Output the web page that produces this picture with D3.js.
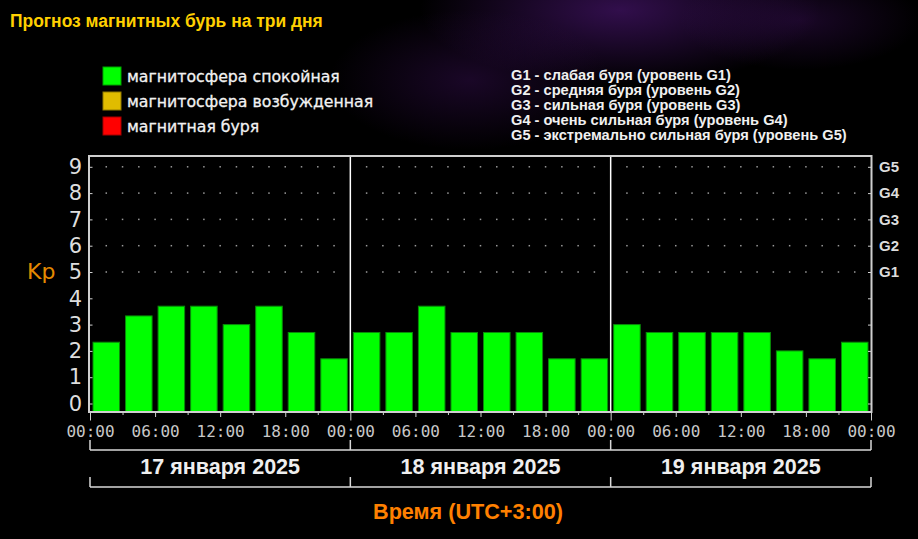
<!DOCTYPE html>
<html><head><meta charset="utf-8">
<script src="https://cdn.jsdelivr.net/npm/d3@7"></script>
<style>html,body{margin:0;padding:0;background:#000;overflow:hidden}
.cond{font-family:"Liberation Sans",Arial,sans-serif;font-weight:bold}</style>
</head><body>
<script>
// ---- data ----
const days = ["17 января 2025", "18 января 2025", "19 января 2025"];
const kpDay1 = [2.33, 3.33, 3.7, 3.7, 3.0, 3.7, 2.7, 1.7];
const kpDay2 = [2.7, 2.7, 3.7, 2.7, 2.7, 2.7, 1.7, 1.7];
const kpDay3 = [3.0, 2.7, 2.7, 2.7, 2.7, 2.0, 1.7, 2.33];
const yTicks = [0, 1, 2, 3, 4, 5, 6, 7, 8, 9];
const gTicks = ["G1", "G2", "G3", "G4", "G5"];
const timeLabels = ["00:00", "06:00", "12:00", "18:00"];
const legendLabels = ["магнитосфера спокойная", "магнитосфера возбужденная", "магнитная буря"];
const legendColors = ["#00ff00", "#e0bc00", "#ff0000"];
const gLegend = [
  "G1 - слабая буря (уровень G1)",
  "G2 - средняя буря (уровень G2)",
  "G3 - сильная буря (уровень G3)",
  "G4 - очень сильная буря (уровень G4)",
  "G5 - экстремально сильная буря (уровень G5)"
];
const titleText = "Прогноз магнитных бурь на три дня";
const axisTitle = "Время (UTC+3:00)";

// ---- layout ----
const W = 918, H = 539;
const svg = d3.select("body").append("svg").attr("width", W).attr("height", H);
const defs = svg.append("defs");
function glow(id, color, op) {
  const g = defs.append("radialGradient").attr("id", id);
  g.append("stop").attr("offset", "0%").attr("stop-color", color).attr("stop-opacity", op);
  g.append("stop").attr("offset", "100%").attr("stop-color", color).attr("stop-opacity", 0);
}
glow("g1", "#5a1a8a", 0.55);
glow("g2", "#4a1470", 0.35);
svg.append("rect").attr("width", W).attr("height", H).attr("fill", "#000");
svg.append("ellipse").attr("cx", 620).attr("cy", 10).attr("rx", 200).attr("ry", 75).attr("fill", "url(#g1)");
svg.append("ellipse").attr("cx", 470).attr("cy", 80).attr("rx", 140).attr("ry", 70).attr("fill", "url(#g2)");
svg.append("ellipse").attr("cx", 800).attr("cy", 20).attr("rx", 120).attr("ry", 50).attr("fill", "url(#g2)");

const L = 89, R = 871.5, T = 156, B = 412;
const x = d3.scaleLinear().domain([0, 72]).range([90, 871]);
const y = d3.scaleLinear().domain([0, 9]).range([403.5, 166.8]);

function fitGroup(sel, refNode, target) {
  const len = refNode.getComputedTextLength();
  const fs = parseFloat(d3.select(refNode).attr("font-size"));
  sel.attr("font-size", fs * target / len);
}

// title
const title = svg.append("text").attr("x", 10).attr("y", 26.5)
  .attr("font-family", "Liberation Sans, Arial, sans-serif").attr("font-weight", "bold")
  .attr("font-size", 17).attr("fill", "#ffd000").text(titleText);
fitGroup(title, title.node(), 313);

// legend
const leg = svg.append("g");
const legItems = leg.selectAll("g").data(legendLabels).join("g")
  .attr("transform", (d, i) => `translate(103,${67 + i * 25})`);
legItems.append("rect").attr("width", 18).attr("height", 18)
  .attr("fill", (d, i) => legendColors[i])
  .attr("stroke", (d, i) => d3.color(legendColors[i]).darker(1.2)).attr("stroke-width", 1);
const legText = legItems.append("text").attr("x", 24).attr("y", 15)
  .attr("font-family", "DejaVu Sans, Verdana, sans-serif").attr("font-size", 15)
  .attr("fill", "#f2f2f2").attr("stroke", "#f2f2f2").attr("stroke-width", 0.3).text(d => d);
fitGroup(legText, legText.nodes()[0], 213);

// G legend
const gl = svg.append("g").selectAll("text").data(gLegend).join("text")
  .attr("class", "cond")
  .attr("x", 511).attr("y", (d, i) => 79.5 + i * 15.2)
  .attr("font-size", 13).attr("fill", "#f0f0f0").text(d => d);
fitGroup(gl, gl.nodes()[4], 336);

// dotted grid
const dots = [];
for (let k = 1; k < 48; k++) if (k % 16 !== 0) for (let lv = 5; lv <= 9; lv++) dots.push([k * 1.5, lv]);
svg.append("g").selectAll("rect").data(dots).join("rect")
  .attr("x", d => x(d[0]) - 0.75).attr("y", d => y(d[1]) - 0.75)
  .attr("width", 1.5).attr("height", 1.5).attr("fill", "#9a9a9a");

// bars
const series = [kpDay1, kpDay2, kpDay3];
const barData = [];
series.forEach((arr, d) => arr.forEach((v, i) => barData.push({ h: d * 24 + i * 3, v })));
const slot = x(3) - x(0), pad = 3;
function kpColor(v) { return v >= 5 ? legendColors[2] : v >= 4 ? legendColors[1] : legendColors[0]; }
svg.append("g").selectAll("rect").data(barData).join("rect")
  .attr("x", d => x(d.h) + pad).attr("width", slot - 2 * pad)
  .attr("y", d => y(d.v)).attr("height", d => B - y(d.v))
  .attr("fill", d => kpColor(d.v)).attr("stroke", "#0a8a0a").attr("stroke-width", 1);

// day separators
svg.append("g").selectAll("line").data([24, 48]).join("line")
  .attr("x1", d => x(d)).attr("x2", d => x(d)).attr("y1", T).attr("y2", B)
  .attr("stroke", "#ffffff").attr("stroke-width", 1.5);

// frame
svg.append("rect").attr("x", L).attr("y", T).attr("width", R - L).attr("height", B - T)
  .attr("fill", "none").attr("stroke", "#cfcfcf").attr("stroke-width", 2);

// left axis
const la = svg.append("g").attr("transform", `translate(${L},0)`)
  .call(d3.axisLeft(y).tickValues(yTicks).tickSize(-3.5).tickPadding(7).tickFormat(d3.format("d")));
la.select(".domain").remove();
la.selectAll("line").attr("stroke", "#cfcfcf");
la.selectAll("text").attr("font-family", "DejaVu Sans, Verdana, sans-serif").attr("font-size", 21).attr("fill", "#dddddd");

// right axis
const ra = svg.append("g").attr("transform", `translate(${R},0)`)
  .call(d3.axisRight(y).tickValues(yTicks).tickSize(-3.5).tickPadding(7.5)
    .tickFormat(d => d >= 5 ? gTicks[d - 5] : ""));
ra.select(".domain").remove();
ra.selectAll("line").attr("stroke", "#cfcfcf");
ra.selectAll("text").attr("class", "cond").attr("font-family", null).attr("font-size", 15).attr("fill", "#dddddd");

// Kp label
svg.append("text").attr("x", 27).attr("y", 279).attr("font-family", "DejaVu Sans, sans-serif")
  .attr("font-size", 22).attr("fill", "#e58a00").text("Kp");

// bottom axis: minor 3h ticks
const minor = d3.range(0, 73, 3).filter(h => h % 6 !== 0);
const ba1 = svg.append("g").attr("transform", `translate(0,${B})`)
  .call(d3.axisBottom(x).tickValues(minor).tickSize(3).tickFormat(""));
ba1.select(".domain").remove();
ba1.selectAll("line").attr("stroke", "#cfcfcf");
// major 6h ticks with labels
const major = d3.range(0, 73, 6);
const ba2 = svg.append("g").attr("transform", `translate(0,${B})`)
  .call(d3.axisBottom(x).tickValues(major).tickSizeInner(5).tickPadding(20)
    .tickFormat(h => timeLabels[(h % 24) / 6]));
ba2.select(".domain").remove();
ba2.selectAll("line").attr("stroke", "#cfcfcf").attr("y2", h => h % 24 === 0 ? 8.5 : 5);
ba2.selectAll("text").attr("font-family", "DejaVu Sans Mono, monospace").attr("font-size", 16)
  .attr("fill", "#c8c8c8").attr("dy", "0").attr("y", 25);

// brackets
const bounds = [0, 24, 48, 72];
function bracket(yLine, yTop) {
  const g = svg.append("g").attr("stroke", "#d8d8d8").attr("stroke-width", 1.5).attr("fill", "none");
  g.append("line").attr("x1", x(0)).attr("x2", x(72)).attr("y1", yLine).attr("y2", yLine);
  g.selectAll(".v").data(bounds).join("line").attr("class", "v")
    .attr("x1", d => x(d)).attr("x2", d => x(d)).attr("y1", yTop).attr("y2", yLine);
}
bracket(450, 440);
bracket(487, 477);

// day labels
const dl = svg.append("g").selectAll("text").data(days).join("text")
  .attr("class", "cond")
  .attr("x", (d, i) => x(i * 24 + 12)).attr("y", 473.5).attr("text-anchor", "middle")
  .attr("font-size", 18).attr("fill", "#eeeeee").text(d => d);
fitGroup(dl, dl.nodes()[0], 160);

// axis title
const at = svg.append("text").attr("class", "cond").attr("x", 468).attr("y", 518.5).attr("text-anchor", "middle")
  .attr("font-size", 18).attr("fill", "#ff8000").text(axisTitle);
fitGroup(at, at.node(), 190);
</script>
</body></html>
